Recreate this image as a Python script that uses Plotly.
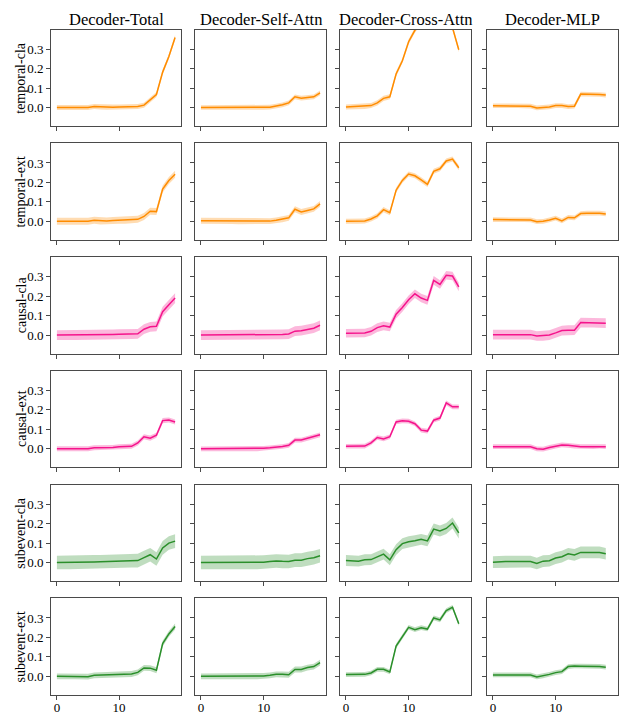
import plotly.graph_objects as go

# ---------------- data ----------------
col_titles = ["Decoder-Total", "Decoder-Self-Attn", "Decoder-Cross-Attn", "Decoder-MLP"]
row_labels = ["temporal-cla", "temporal-ext", "causal-cla", "causal-ext", "subevent-cla", "subevent-ext"]
x_ticks = [0, 10]
y_ticks = [0.0, 0.1, 0.2, 0.3]

# Decoder-Total (layers 0..19)
total_temporal_cla = [0, 0, 0, 0, 0, 0, 0.005, 0.003, 0.002, 0.002, 0.003, 0.003, 0.004, 0.005, 0.012, 0.038, 0.067, 0.182, 0.262, 0.36]
total_temporal_ext = [0, 0, 0, 0, 0, 0, 0.005, 0.002, 0.002, 0.004, 0.005, 0.005, 0.006, 0.01, 0.025, 0.052, 0.05, 0.166, 0.21, 0.242]
total_causal_cla = [0, 0, 0, 0, 0, 0, 0.002, 0.002, 0.003, 0.003, 0.004, 0.004, 0.005, 0.006, 0.03, 0.042, 0.045, 0.12, 0.155, 0.19]
total_causal_ext = [0, 0, 0, 0, 0, 0, 0.005, 0.005, 0.006, 0.007, 0.01, 0.012, 0.013, 0.03, 0.062, 0.055, 0.07, 0.145, 0.148, 0.138]
total_subevent_cla = [0, 0, 0, 0, 0, 0, 0.003, 0.004, 0.005, 0.006, 0.007, 0.008, 0.009, 0.01, 0.025, 0.04, 0.018, 0.075, 0.1, 0.11]
total_subevent_ext = [0, 0, 0, 0, 0, -0.002, 0.005, 0.006, 0.007, 0.008, 0.01, 0.011, 0.012, 0.02, 0.043, 0.042, 0.031, 0.168, 0.218, 0.256]

# Decoder-Self-Attn (layers 0..19)
self_temporal_cla = [0, 0, 0, 0, 0, 0, 0, 0, 0, 0, 0, 0.002, 0.008, 0.014, 0.024, 0.055, 0.048, 0.05, 0.055, 0.075]
self_temporal_ext = [0.003, 0.003, 0.002, 0.002, 0.001, 0.001, 0, 0, 0, 0, 0.001, 0.001, 0.005, 0.01, 0.018, 0.062, 0.048, 0.056, 0.064, 0.09]
self_causal_cla = [0, 0, 0, 0, 0, 0, 0, 0, 0.001, 0.001, 0.002, 0.002, 0.003, 0.003, 0.005, 0.02, 0.022, 0.028, 0.035, 0.05]
self_causal_ext = [0, 0, 0, 0, 0, 0, 0, 0, 0, 0, 0.003, 0.005, 0.008, 0.012, 0.018, 0.045, 0.045, 0.055, 0.062, 0.072]
self_subevent_cla = [0, 0, 0, 0, 0, 0, 0, 0, 0, 0, 0.002, 0.005, 0.008, 0.006, 0.005, 0.012, 0.012, 0.02, 0.025, 0.035]
self_subevent_ext = [0, 0, 0, 0, 0, 0, 0, 0, 0, 0, 0.002, 0.005, 0.01, 0.01, 0.008, 0.035, 0.035, 0.045, 0.05, 0.07]

# Decoder-Cross-Attn (layers 0..18)
cross_temporal_cla = [0.003, 0.004, 0.005, 0.006, 0.01, 0.024, 0.047, 0.055, 0.172, 0.24, 0.338, 0.397, 0.44, 0.47, 0.49, 0.5, 0.47, 0.41, 0.297]
cross_temporal_ext = [0.0, 0.0, 0.0, 0.002, 0.012, 0.028, 0.06, 0.044, 0.16, 0.21, 0.243, 0.234, 0.213, 0.19, 0.257, 0.27, 0.31, 0.32, 0.275]
cross_causal_cla = [0.009, 0.009, 0.009, 0.01, 0.019, 0.038, 0.047, 0.041, 0.107, 0.141, 0.181, 0.212, 0.19, 0.178, 0.281, 0.26, 0.307, 0.303, 0.247]
cross_causal_ext = [0.013, 0.013, 0.013, 0.014, 0.031, 0.058, 0.051, 0.062, 0.138, 0.144, 0.142, 0.129, 0.096, 0.091, 0.147, 0.158, 0.236, 0.216, 0.216]
cross_subevent_cla = [0.01, 0.009, 0.007, 0.014, 0.015, 0.029, 0.043, 0.014, 0.066, 0.097, 0.107, 0.112, 0.119, 0.111, 0.172, 0.162, 0.175, 0.203, 0.152]
cross_subevent_ext = [0.009, 0.009, 0.009, 0.01, 0.017, 0.036, 0.036, 0.022, 0.155, 0.205, 0.252, 0.24, 0.25, 0.243, 0.3, 0.29, 0.338, 0.355, 0.27]

# Decoder-MLP (layers 0..18)
mlp_temporal_cla = [0.009, 0.009, 0.009, 0.009, 0.009, 0.009, 0.007, -0.002, 0.0, 0.003, 0.01, 0.01, 0.005, 0.007, 0.069, 0.069, 0.069, 0.067, 0.064]
mlp_temporal_ext = [0.009, 0.009, 0.009, 0.009, 0.009, 0.009, 0.007, -0.002, 0.0, 0.007, 0.016, 0.002, 0.02, 0.018, 0.04, 0.042, 0.042, 0.042, 0.038]
mlp_causal_cla = [0.002, 0.002, 0.002, 0.002, 0.002, 0.002, 0.002, -0.005, -0.004, 0.0, 0.011, 0.023, 0.025, 0.025, 0.064, 0.064, 0.064, 0.064, 0.061]
mlp_causal_ext = [0.011, 0.011, 0.011, 0.011, 0.011, 0.011, 0.011, 0.0, -0.002, 0.007, 0.013, 0.02, 0.018, 0.013, 0.011, 0.011, 0.011, 0.013, 0.011]
mlp_subevent_cla = [0.002, 0.005, 0.005, 0.005, 0.005, 0.005, 0.005, -0.005, 0.007, 0.009, 0.023, 0.03, 0.045, 0.039, 0.052, 0.052, 0.052, 0.052, 0.045]
mlp_subevent_ext = [0.007, 0.007, 0.007, 0.007, 0.007, 0.007, 0.007, -0.003, 0.002, 0.01, 0.019, 0.024, 0.05, 0.053, 0.052, 0.052, 0.052, 0.051, 0.047]

# half-width of the shaded band for each panel (rows x cols)
band_halfwidth = [
    [0.013, 0.012, 0.013, 0.012],
    [0.018, 0.015, 0.013, 0.012],
    [0.025, 0.025, 0.022, 0.025],
    [0.013, 0.012, 0.012, 0.012],
    [0.035, 0.035, 0.028, 0.03],
    [0.015, 0.015, 0.012, 0.012],
]

series = [
    [total_temporal_cla, self_temporal_cla, cross_temporal_cla, mlp_temporal_cla],
    [total_temporal_ext, self_temporal_ext, cross_temporal_ext, mlp_temporal_ext],
    [total_causal_cla, self_causal_cla, cross_causal_cla, mlp_causal_cla],
    [total_causal_ext, self_causal_ext, cross_causal_ext, mlp_causal_ext],
    [total_subevent_cla, self_subevent_cla, cross_subevent_cla, mlp_subevent_cla],
    [total_subevent_ext, self_subevent_ext, cross_subevent_ext, mlp_subevent_ext],
]

# ---------------- styling ----------------
line_colors = ["#ff8c00", "#ff8c00", "#f5148c", "#f5148c", "#2a8f2a", "#2a8f2a"]
band_colors = ["rgba(255,140,0,0.30)", "rgba(255,140,0,0.30)", "rgba(245,20,140,0.30)",
               "rgba(245,20,140,0.30)", "rgba(42,143,42,0.30)", "rgba(42,143,42,0.30)"]

# page body has an 8px margin; figure is sized so that the page fits the 631x728 window
OFF = 8
W, H = 631 - 2 * OFF, 728 - 2 * OFF
col_px = [(51, 181), (195, 326), (340, 471), (487, 618)]      # window pixel coordinates
row_top_px = [29.5, 143.3, 257.0, 370.8, 484.5, 598.3]
panel_h = 96.5
FONT = "Liberation Serif"
frame = "#4a4a4a"


def fx(px):
    return (px - OFF) / W


def fy(py):
    return 1 - (py - OFF) / H


fig = go.Figure()
layout = {}
for r in range(6):
    for c in range(4):
        k = r * 4 + c + 1
        xa = "x" if k == 1 else f"x{k}"
        ya = "y" if k == 1 else f"y{k}"
        vals = series[r][c]
        xs = list(range(len(vals)))
        hw = band_halfwidth[r][c]
        upper = [v + hw for v in vals]
        lower = [v - hw for v in vals]
        fig.add_trace(go.Scatter(
            x=xs + xs[::-1], y=upper + lower[::-1], fill="toself",
            fillcolor=band_colors[r], line=dict(width=0), mode="lines",
            hoverinfo="skip", showlegend=False, xaxis=xa, yaxis=ya))
        fig.add_trace(go.Scatter(
            x=xs, y=vals, mode="lines", line=dict(color=line_colors[r], width=1.5),
            showlegend=False, xaxis=xa, yaxis=ya))

        x0, x1 = col_px[c]
        top = row_top_px[r]
        bot = top + panel_h
        axis_common = dict(showline=True, mirror=True, linecolor=frame, linewidth=1,
                           showgrid=False, zeroline=False, ticks="outside", ticklen=4,
                           tickwidth=1, tickcolor=frame,
                           tickfont=dict(family=FONT, size=13, color="black"))
        layout["xaxis" if k == 1 else f"xaxis{k}"] = dict(
            axis_common, domain=[fx(x0), fx(x1)], anchor=ya, range=[-0.95, 19.95],
            tickvals=x_ticks, showticklabels=(r == 5), ticklabelstandoff=-3)
        layout["yaxis" if k == 1 else f"yaxis{k}"] = dict(
            axis_common, domain=[fy(bot), fy(top)], anchor=xa, range=[-0.095, 0.401],
            tickvals=y_ticks, tickformat=".1f", showticklabels=(c == 0))

annotations = []
for c, t in enumerate(col_titles):
    x0, x1 = col_px[c]
    annotations.append(dict(text=t, x=fx((x0 + x1) / 2), y=fy(19), xref="paper", yref="paper",
                            xanchor="center", yanchor="middle", showarrow=False,
                            font=dict(family=FONT, size=16.5, color="black")))
for r, t in enumerate(row_labels):
    top = row_top_px[r]
    annotations.append(dict(text=t, x=fx(21), y=fy(top + panel_h / 2), xref="paper", yref="paper",
                            xanchor="center", yanchor="middle", textangle=-90, showarrow=False,
                            font=dict(family=FONT, size=14, color="black")))

fig.update_layout(**layout)
fig.update_layout(width=W, height=H, margin=dict(l=0, r=0, t=0, b=0),
                  plot_bgcolor="white", paper_bgcolor="white",
                  annotations=annotations, font=dict(family=FONT, color="black"))

fig.write_html("out.html")
